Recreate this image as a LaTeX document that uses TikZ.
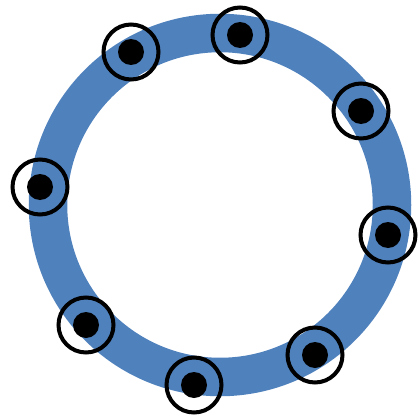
\documentclass[tikz,border=0pt]{standalone}
\usepackage{xcolor}
\usetikzlibrary{positioning}
\definecolor{ringblue}{HTML}{4F81BD}

\begin{document}
\begin{tikzpicture}[
  x=1pt, y=-1pt,
  ring/.style={draw=ringblue, line width=38.5pt},
  halo/.style={circle, draw=black, line width=4pt, minimum size=55pt, inner sep=0pt},
  dot/.style={circle, fill=black, minimum size=26pt, inner sep=0pt},
]
\useasboundingbox (0,0) rectangle (420,420);

% ---------- ring ----------
\coordinate (c) at (220,205);
\draw[ring] (c) circle[radius=172];

% ---------- markers ----------
\foreach \n/\p in {m1/{131,52}, m2/{240,35}, m3/{361,111}, m4/{388,235},
                   m5/{315,355}, m6/{194,385}, m7/{86,325}, m8/{40,187}} {
  \node[dot] (\n) at (\p) {};
  \node[halo] (\n h) at (\n) {};
}

\end{tikzpicture}
\end{document}
